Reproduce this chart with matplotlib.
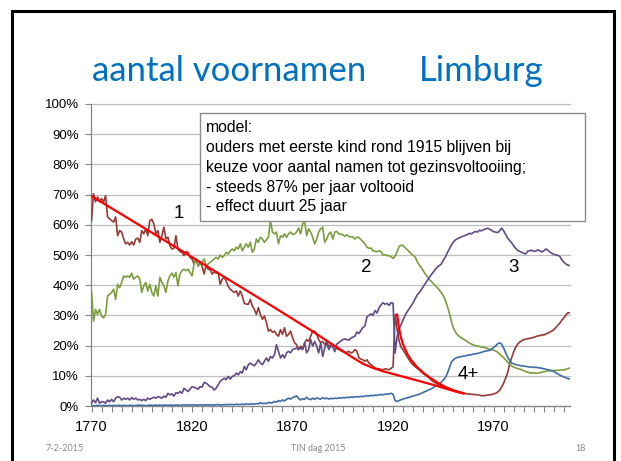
import matplotlib
matplotlib.use('Agg')
import matplotlib.pyplot as plt
import matplotlib.patches as patches
import numpy as np

# jaren 1770 t/m 2008
years = np.arange(1770, 2009)

# aandeel kinderen met 1 voornaam (%)
one_name = [
    61.4, 70.3, 67.6, 69.2, 67.6, 68.7, 67.6, 69.6, 62.6, 62.0,  # 1770
    61.4, 60.9, 62.6, 56.4, 58.1, 57.6, 55.3, 53.7, 54.2, 53.3,  # 1780
    54.4, 53.3, 55.3, 55.6, 54.2, 58.1, 57.0, 58.7, 56.4, 61.4,  # 1790
    61.8, 60.3, 57.0, 58.1, 54.2, 56.4, 59.2, 55.3, 55.9, 53.1,  # 1800
    52.0, 52.2, 56.4, 52.0, 51.1, 50.9, 49.8, 51.1, 50.9, 49.2,  # 1810
    48.7, 47.0, 48.7, 46.4, 47.6, 46.2, 43.7, 46.7, 45.3, 45.1,  # 1820
    43.7, 44.4, 44.0, 44.2, 40.3, 42.0, 42.6, 41.4, 39.6, 38.7,  # 1830
    38.1, 37.6, 38.1, 36.4, 38.1, 36.4, 34.0, 33.7, 33.7, 35.3,  # 1840
    33.1, 32.0, 30.3, 32.6, 30.3, 28.7, 29.8, 27.6, 24.8, 25.3,  # 1850
    24.4, 24.8, 23.7, 23.1, 25.3, 23.7, 25.9, 23.1, 23.7, 24.8,  # 1860
    22.6, 20.9, 20.3, 18.7, 19.8, 18.9, 20.9, 22.0, 21.4, 23.1,  # 1870
    24.8, 24.8, 23.7, 22.0, 20.9, 21.4, 20.3, 21.4, 19.6, 20.3,  # 1880
    20.3, 19.5, 19.0, 18.7, 18.3, 18.0, 17.6, 17.8, 18.1, 17.6,  # 1890
    17.8, 18.7, 18.1, 16.0, 15.5, 15.3, 14.8, 15.3, 14.2, 13.7,  # 1900
    13.2, 12.6, 12.4, 12.3, 12.1, 12.0, 12.3, 12.2, 12.0, 12.5,  # 1910
    13.0, 30.3, 25.5, 21.5, 19.5, 18.5, 17.5, 16.3, 15.3, 14.3,  # 1920
    13.6, 13.0, 12.5, 12.0, 11.3, 10.8, 10.3, 9.8, 9.3, 8.6,     # 1930
    8.1, 7.7, 7.3, 7.0, 6.6, 6.3, 6.0, 5.8, 5.6, 5.3,            # 1940
    5.0, 4.8, 4.6, 4.4, 4.3, 4.2, 4.1, 4.0, 4.0, 3.9,            # 1950
    3.8, 3.8, 3.7, 3.6, 3.4, 3.4, 3.5, 3.6, 3.7, 3.8,            # 1960
    4.0, 4.2, 4.6, 5.2, 6.3, 7.6, 9.3, 11.0, 14.0, 16.0,         # 1970
    18.0, 19.5, 20.5, 21.2, 21.6, 22.0, 22.1, 22.3, 22.4, 22.6,  # 1980
    22.7, 23.0, 23.2, 23.3, 23.6, 23.5, 23.9, 24.1, 24.5, 24.8,  # 1990
    25.3, 26.0, 26.8, 27.5, 28.5, 29.2, 30.2, 30.9, 30.8,        # 2000
]

# 2 voornamen
two_names = [
    38.1, 28.1, 32.0, 30.3, 32.0, 29.8, 29.2, 30.3, 36.4, 37.0,
    37.6, 38.7, 35.3, 40.3, 39.2, 40.9, 43.1, 42.6, 43.1, 42.6,
    44.0, 42.0, 42.6, 43.1, 42.0, 37.6, 39.8, 40.9, 38.1, 40.3,
    37.6, 36.4, 39.8, 36.4, 42.6, 40.9, 39.8, 37.6, 41.4, 43.1,
    44.0, 42.6, 44.2, 39.8, 43.7, 44.8, 45.3, 44.8, 45.3, 44.2,
    43.1, 47.0, 48.7, 46.4, 47.0, 47.6, 48.7, 46.4, 47.0, 47.6,
    48.1, 48.7, 49.2, 48.7, 50.0, 49.2, 49.8, 50.9, 50.3, 51.4,
    52.0, 51.4, 52.6, 52.0, 53.7, 51.4, 52.6, 53.7, 52.6, 54.2,
    50.9, 52.0, 55.3, 54.2, 55.9, 55.3, 54.2, 55.1, 55.9, 61.4,
    57.6, 57.0, 57.6, 53.7, 56.4, 55.9, 57.0, 55.9, 57.0, 57.6,
    56.8, 57.0, 57.6, 58.9, 57.0, 60.3, 61.4, 56.4, 58.7, 57.6,
    55.9, 53.7, 55.3, 57.6, 58.7, 59.2, 54.2, 55.3, 57.0, 57.6,
    55.3, 57.6, 57.8, 57.0, 56.9, 56.7, 56.2, 56.7, 56.1, 56.0,
    56.0, 55.3, 55.9, 55.8, 55.1, 54.4, 53.7, 52.6, 52.2, 52.3,
    51.4, 51.2, 51.1, 51.4, 51.1, 50.0, 50.1, 49.8, 49.8, 49.4,
    48.9, 49.6, 51.1, 52.8, 53.3, 53.1, 52.4, 51.8, 51.1, 50.4,
    49.9, 49.3, 47.8, 46.7, 45.9, 44.8, 43.7, 42.9, 41.8, 41.3,
    40.5, 39.8, 39.2, 38.4, 37.5, 36.5, 35.0, 33.0, 30.8, 28.0,
    25.8, 24.5, 23.6, 23.0, 22.6, 22.1, 21.8, 21.2, 20.8, 20.5,
    20.2, 20.0, 19.8, 19.8, 19.5, 19.4, 19.3, 19.0, 18.8, 18.7,
    18.5, 18.2, 17.8, 17.2, 16.6, 16.0, 15.3, 14.5, 13.8, 13.2,
    12.9, 12.6, 12.4, 12.2, 12.0, 11.7, 11.4, 11.2, 11.0, 10.9,
    11.0, 10.8, 10.9, 11.0, 11.2, 11.3, 11.5, 11.6, 11.7, 11.6,
    11.8, 11.7, 11.9, 11.8, 12.0, 11.9, 12.2, 12.4, 12.6,
]

# 3 voornamen
three_names = [
    0.9, 2.0, 1.1, 2.6, 0.9, 1.4, 1.4, 0.9, 2.0, 1.4,
    2.2, 1.4, 2.6, 3.1, 2.9, 2.0, 2.6, 2.2, 2.6, 2.0,
    2.8, 2.2, 2.6, 2.0, 2.2, 1.8, 2.2, 1.8, 2.6, 2.2,
    2.6, 2.9, 2.6, 3.1, 2.9, 2.6, 3.3, 2.9, 4.2, 3.7,
    4.0, 3.3, 4.4, 4.2, 4.8, 4.2, 5.9, 5.3, 4.8, 5.6,
    6.4, 6.2, 5.9, 5.6, 6.4, 6.2, 7.8, 7.6, 7.0, 6.4,
    6.2, 5.3, 5.9, 7.0, 8.1, 8.7, 9.2, 8.7, 9.8, 8.9,
    9.8, 10.0, 10.9, 10.3, 11.4, 10.9, 13.1, 12.0, 13.7, 14.2,
    13.7, 13.3, 14.2, 15.3, 14.2, 13.7, 14.8, 15.9, 14.8, 16.4,
    15.9, 17.0, 20.3, 18.1, 15.9, 17.0, 15.9, 17.6, 18.1, 17.6,
    18.7, 18.9, 19.2, 18.7, 19.2, 18.7, 20.9, 17.6, 18.7, 22.0,
    19.8, 21.4, 19.8, 17.6, 20.9, 16.4, 19.2, 20.9, 18.7, 19.8,
    19.5, 18.0, 20.5, 21.0, 21.5, 22.0, 22.2, 22.0, 21.8, 22.5,
    22.8, 23.1, 24.5, 24.0, 25.0, 26.0, 26.5, 29.5, 30.0, 30.5,
    30.0, 31.6, 30.8, 32.5, 33.5, 34.2, 33.7, 34.0, 33.3, 34.2,
    34.0, 17.5, 23.0, 25.5, 27.0, 28.5, 30.0, 31.2, 32.2, 33.2,
    34.2, 35.5, 36.8, 37.5, 38.5, 39.5, 40.5, 41.6, 42.5, 43.5,
    44.3, 45.3, 46.0, 46.5, 47.0, 48.3, 49.3, 50.8, 52.0, 53.3,
    54.3, 55.0, 55.4, 55.7, 56.0, 56.3, 56.5, 56.8, 57.2, 57.0,
    57.5, 57.8, 57.6, 58.2, 58.0, 58.4, 58.6, 58.9, 58.5, 58.2,
    57.7, 57.6, 57.4, 58.0, 58.9, 58.0, 56.8, 55.6, 54.8, 54.0,
    53.0, 52.2, 51.5, 51.2, 50.9, 50.5, 50.4, 51.3, 51.4, 51.6,
    51.2, 51.3, 51.7, 51.4, 51.0, 51.4, 52.0, 51.6, 51.0, 50.5,
    50.2, 50.0, 49.9, 49.5, 48.3, 47.6, 47.0, 46.6, 46.5,
]

# 4 of meer voornamen
four_plus = [
    0.1, 0.1, 0.1, 0.2, 0.1, 0.1, 0.2, 0.1, 0.1, 0.2,
    0.1, 0.2, 0.1, 0.2, 0.2, 0.1, 0.2, 0.2, 0.1, 0.2,
    0.2, 0.1, 0.2, 0.2, 0.3, 0.2, 0.2, 0.1, 0.2, 0.3,
    0.2, 0.2, 0.3, 0.2, 0.3, 0.2, 0.3, 0.3, 0.2, 0.3,
    0.3, 0.2, 0.3, 0.3, 0.2, 0.3, 0.4, 0.3, 0.3, 0.4,
    0.3, 0.4, 0.3, 0.3, 0.4, 0.3, 0.4, 0.3, 0.4, 0.3,
    0.4, 0.3, 0.4, 0.5, 0.3, 0.4, 0.4, 0.5, 0.4, 0.5,
    0.5, 0.4, 0.6, 0.5, 0.5, 0.6, 0.5, 0.7, 0.6, 0.6,
    0.7, 0.6, 0.8, 0.7, 1.1, 0.8, 0.9, 0.8, 1.2, 1.0,
    1.1, 1.5, 1.3, 1.8, 1.5, 2.0, 1.7, 2.2, 2.6, 2.3,
    2.8, 3.0, 3.4, 2.5, 2.0, 2.4, 2.2, 2.9, 2.3, 2.1,
    2.6, 2.2, 2.7, 2.4, 2.3, 2.8, 2.4, 2.6, 2.3, 2.5,
    2.4, 2.6, 2.5, 2.7, 2.6, 2.8, 2.7, 2.9, 2.8, 3.0,
    2.9, 3.0, 3.1, 3.0, 3.2, 3.1, 3.3, 3.4, 3.3, 3.5,
    3.4, 3.6, 3.5, 3.7, 3.8, 3.7, 3.9, 4.0, 4.0, 4.2,
    3.9, 1.8, 1.5, 1.8, 2.1, 2.3, 2.5, 2.7, 2.9, 3.1,
    3.3, 3.5, 3.7, 3.9, 4.2, 4.5, 4.8, 5.1, 5.4, 5.7,
    6.1, 6.5, 6.9, 7.4, 7.9, 8.6, 9.4, 10.8, 12.6, 14.5,
    15.3, 15.8, 16.1, 16.2, 16.4, 16.5, 16.6, 16.8, 16.9, 17.0,
    17.2, 17.3, 17.4, 17.6, 17.8, 18.0, 18.2, 18.3, 18.4, 18.8,
    19.4, 19.9, 20.6, 20.9, 20.5, 19.2, 17.6, 16.2, 15.0, 14.2,
    14.0, 13.7, 13.6, 13.4, 13.3, 13.2, 13.1, 13.0, 12.9, 12.9,
    12.8, 12.8, 12.7, 12.6, 12.5, 12.3, 12.2, 12.0, 11.9, 11.7,
    11.4, 11.0, 10.6, 10.2, 9.9, 9.6, 9.3, 9.1, 8.9,
]

# modellijnen (rood)
model_a_years = [1770, 1800, 1830, 1860, 1880, 1890, 1895, 1900, 1905, 1910,
                 1915, 1920, 1930, 1940, 1950, 1955]
model_a_vals = [69.5, 57.4, 45.2, 33.0, 24.7, 20.3, 18.2, 16.0, 14.0, 12.6,
                11.5, 10.6, 8.8, 7.0, 5.0, 4.2]
model_b_years = [1922, 1923, 1924, 1925, 1927, 1929, 1932, 1935, 1938, 1942,
                 1946, 1950, 1955]
model_b_vals = [30.3, 25.5, 22.5, 20.3, 17.3, 15.2, 12.8, 11.0, 9.5, 7.8,
                6.3, 5.2, 4.2]

ytick_vals = list(range(0, 101, 10))
xtick_labels = [1770, 1820, 1870, 1920, 1970]

box_lines = [
    'model:',
    'ouders met eerste kind rond 1915 blijven bij',
    'keuze voor aantal namen tot gezinsvoltooiing;',
    '- steeds 87% per jaar voltooid',
    '- effect duurt 25 jaar',
]

W, H = 621, 461


def fx(x):
    return x / W


def fy(y):
    return 1 - y / H


fig = plt.figure(figsize=(W / 100, H / 100), dpi=100)
fig.patch.set_facecolor('white')

ax = fig.add_axes([fx(91.5), fy(406), (570 - 91.5) / W, (406 - 104) / H])
ax.set_xlim(1770, 2008)
ax.set_ylim(0, 100)

ax.plot(years, one_name, color='#973A36', lw=1.2, zorder=3)
ax.plot(years, two_names, color='#7E9D3F', lw=1.2, zorder=3)
ax.plot(years, three_names, color='#624B85', lw=1.2, zorder=3)
ax.plot(years, four_plus, color='#3E6DA6', lw=1.2, zorder=3)
ax.plot(model_a_years, model_a_vals, color='#FF0000', lw=1.6, zorder=4)
ax.plot(model_b_years, model_b_vals, color='#FF0000', lw=1.6, zorder=4)

ax.set_yticks(ytick_vals)
ax.set_yticklabels([f'{v}%' for v in ytick_vals])
ax.set_xticks(xtick_labels)
ax.set_xticklabels([str(v) for v in xtick_labels])
ax.set_xticks(list(range(1770, 2009, 5)), minor=True)
ax.yaxis.grid(True, color='#BFBFBF', lw=0.9)
for gl in ax.get_ygridlines():
    gl.set_clip_on(False)
ax.set_axisbelow(True)

for s in ['top', 'right']:
    ax.spines[s].set_visible(False)
for s in ['left', 'bottom']:
    ax.spines[s].set_color('#868686')
    ax.spines[s].set_linewidth(0.9)

ax.tick_params(axis='both', which='both', direction='out', length=4,
               color='#868686', width=0.8)
ax.tick_params(axis='y', pad=5, labelsize=9.5)
ax.tick_params(axis='x', pad=6, labelsize=10.5)
for lab in ax.get_xticklabels() + ax.get_yticklabels():
    lab.set_family('Liberation Sans')

# labels bij de lijnen
for txt, xv, yv in [('1', 1813.3, 63.7), ('2', 1906.6, 45.7),
                    ('3', 1980.0, 45.9), ('4+', 1957.3, 10.3)]:
    ax.text(xv, yv, txt, fontsize=13.5, family='Liberation Sans',
            ha='center', va='center', zorder=5)

# tekstvak
rect = patches.Rectangle((fx(200), fy(221.5)), (584.5 - 200) / W, (221.5 - 113) / H,
                         transform=fig.transFigure, facecolor='white',
                         edgecolor='#8C8C8C', lw=1.0, zorder=5)
fig.add_artist(rect)
for i, line in enumerate(box_lines):
    fig.text(fx(206), fy(132.5 + i * 19.7), line, fontsize=11.3,
             family='Liberation Sans', ha='left', va='baseline', zorder=6)

# titel
fig.text(fx(92), fy(81), 'aantal voornamen', fontsize=25, color='#0070C0',
         family='Lato', ha='left', va='baseline')
fig.text(fx(418.5), fy(81), 'Limburg', fontsize=25, color='#0070C0',
         family='Lato', ha='left', va='baseline')

# voettekst
for txt, xp in [('7-2-2015', 65), ('TIN dag 2015', 318), ('18', 580)]:
    fig.text(fx(xp), fy(448), txt, fontsize=6.5, color='#898989',
             family='Lato', ha='center', va='center')

# dia-rand
border = patches.Rectangle((fx(11.5), fy(475)), (613.5 - 11.5) / W, (475 - 11.5) / H,
                           transform=fig.transFigure, facecolor='none',
                           edgecolor='black', lw=2.2, clip_on=False)
fig.add_artist(border)

fig.savefig('out.png', dpi=100)
